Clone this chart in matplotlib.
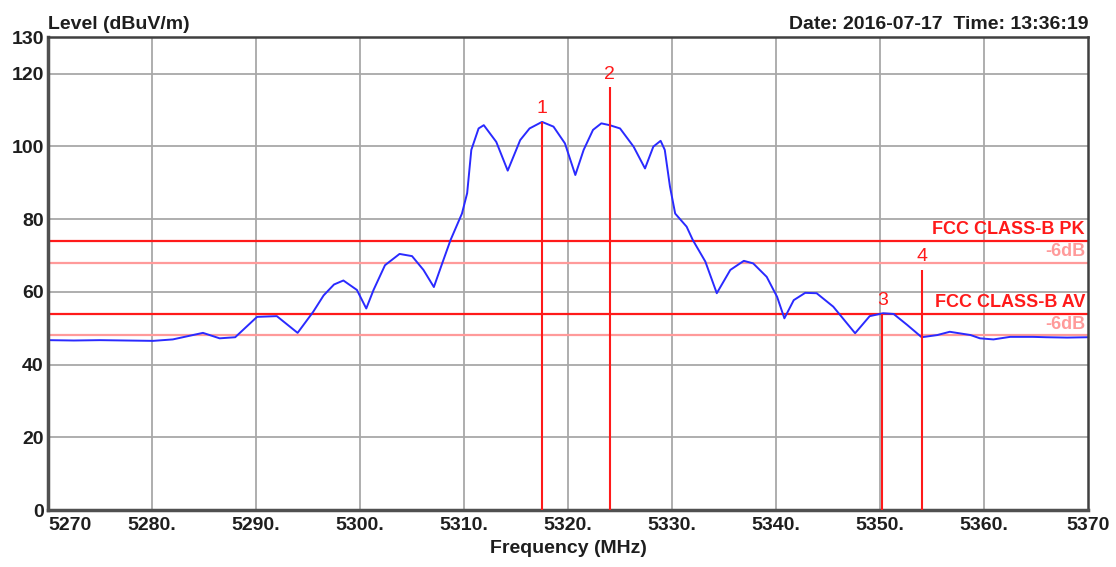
"""
Radiated emission scan, 5270-5370 MHz, with FCC class-B limits and markers
"""

import matplotlib.pyplot as plt
import numpy as np

plt.rcParams['font.family'] = ['Liberation Sans', 'DejaVu Sans']

# Trace (MHz, dBuV/m)
freq = [5270.0, 5272.5, 5275.0, 5277.5, 5280.1, 5282.0, 5284.9, 5286.5, 5288.0,
        5290.1, 5292.0, 5294.0, 5295.5, 5296.5, 5297.5, 5298.4, 5299.7, 5300.6,
        5301.3, 5302.4, 5303.8, 5305.0, 5306.1, 5307.1, 5307.9, 5308.7, 5309.8,
        5310.3, 5310.7, 5311.4, 5311.9, 5313.1, 5314.2, 5315.4, 5316.3, 5317.5,
        5318.6, 5319.7, 5320.7, 5321.5, 5322.4, 5323.2, 5324.0, 5325.0, 5326.3,
        5327.4, 5328.2, 5328.9, 5329.3, 5329.8, 5330.3, 5331.4, 5332.0, 5333.2,
        5334.3, 5335.6, 5336.9, 5337.8, 5339.1, 5340.1, 5340.8, 5341.7, 5342.8,
        5343.9, 5345.5, 5347.6, 5349.0, 5350.3, 5351.3, 5352.6, 5354.0, 5355.5,
        5356.7, 5358.7, 5359.6, 5360.9, 5362.5, 5364.7, 5366.0, 5368.0, 5370.0]
level = [46.7, 46.6, 46.7, 46.6, 46.5, 46.9, 48.7, 47.2, 47.5,
         53.1, 53.3, 48.7, 54.5, 59.0, 62.0, 63.1, 60.5, 55.4,
         60.5, 67.3, 70.4, 69.8, 66.0, 61.3, 67.8, 74.2, 81.5,
         87.1, 99.0, 104.9, 105.8, 101.2, 93.3, 101.7, 104.9, 106.7,
         105.4, 100.8, 92.1, 99.0, 104.5, 106.3, 105.8, 104.9, 99.9,
         93.9, 99.9, 101.5, 99.0, 88.9, 81.5, 77.9, 74.2, 68.3,
         59.6, 66.0, 68.5, 67.8, 64.1, 58.6, 52.7, 57.7, 59.7,
         59.6, 55.9, 48.6, 53.3, 54.1, 53.9, 50.9, 47.5, 48.1,
         49.0, 48.1, 47.2, 46.9, 47.6, 47.6, 47.5, 47.4, 47.5]

# Limit lines
limit_levels = [74, 68, 54, 48]
limit_labels = ['FCC CLASS-B PK', '-6dB', 'FCC CLASS-B AV', '-6dB']
limit_colors = ['#ff1a1a', '#ff9a9a', '#ff1a1a', '#ff9a9a']

# Markers
marker_ids = ['1', '2', '3', '4']
marker_freq = [5317.5, 5324.0, 5350.2, 5354.0]
marker_level = [106.7, 116.2, 54.0, 66.0]

x_ticks = [5270, 5280, 5290, 5300, 5310, 5320, 5330, 5340, 5350, 5360, 5370]
x_tick_labels = ['5270', '5280.', '5290.', '5300.', '5310.', '5320.',
                 '5330.', '5340.', '5350.', '5360.', '5370']
y_ticks = [0, 20, 40, 60, 80, 100, 120, 130]


def main():

    fig = plt.figure(figsize=(11.16, 5.67), dpi=100)
    ax = fig.add_axes([0.043, 0.1005, 0.932, 0.834])

    txt = '#1e1e1e'

    # grid
    for y in y_ticks[1:-1]:
        ax.axhline(y, color='#a8a8a8', lw=1.3, zorder=0)
    for x in x_ticks[1:-1]:
        ax.axvline(x, color='#a8a8a8', lw=1.3, zorder=0)

    # limits
    for lv, lab, col in zip(limit_levels, limit_labels, limit_colors):
        ax.axhline(lv, color=col, lw=1.6, zorder=1)
        ax.text(5369.7, lv + 0.7, lab, color=col, ha='right', va='bottom',
                fontsize=13, fontweight='bold', zorder=3)

    # trace
    ax.plot(freq, level, color='#2a2aff', lw=1.4, zorder=2)

    # markers
    for mid, mf, ml in zip(marker_ids, marker_freq, marker_level):
        ax.vlines(mf, 0, ml, color='#ff1a1a', lw=1.5, zorder=3)
        ax.text(mf, ml + 1.3, mid, color='#ff1a1a', ha='center', va='bottom',
                fontsize=14, zorder=3)

    ax.set_xlim(5270, 5370)
    ax.set_ylim(0, 130)
    ax.set_xticks(x_ticks)
    ax.set_xticklabels(x_tick_labels)
    ax.set_yticks(y_ticks)
    ax.set_yticklabels([str(v) for v in y_ticks])
    ax.tick_params(length=0, labelsize=14, labelcolor=txt)
    ax.tick_params(axis='x', pad=5)
    ax.tick_params(axis='y', pad=3)
    for lab in ax.get_xticklabels() + ax.get_yticklabels():
        lab.set_fontweight('bold')
    ax.get_xticklabels()[0].set_horizontalalignment('left')

    for s in ['left', 'bottom']:
        ax.spines[s].set_linewidth(2.5)
        ax.spines[s].set_color('#505050')
    for s in ['top', 'right']:
        ax.spines[s].set_linewidth(1.8)
        ax.spines[s].set_color('#404040')

    ax.set_xlabel('Frequency (MHz)', fontsize=14, fontweight='bold',
                  color=txt, labelpad=4)
    fig.text(0.043, 0.942, 'Level (dBuV/m)', fontsize=14, fontweight='bold',
             color=txt, ha='left', va='bottom')
    fig.text(0.975, 0.942, 'Date: 2016-07-17  Time: 13:36:19', fontsize=14,
             fontweight='bold', color=txt, ha='right', va='bottom')

    fig.savefig('out.png', dpi=100)
    plt.close()


if __name__ == '__main__':
    main()
